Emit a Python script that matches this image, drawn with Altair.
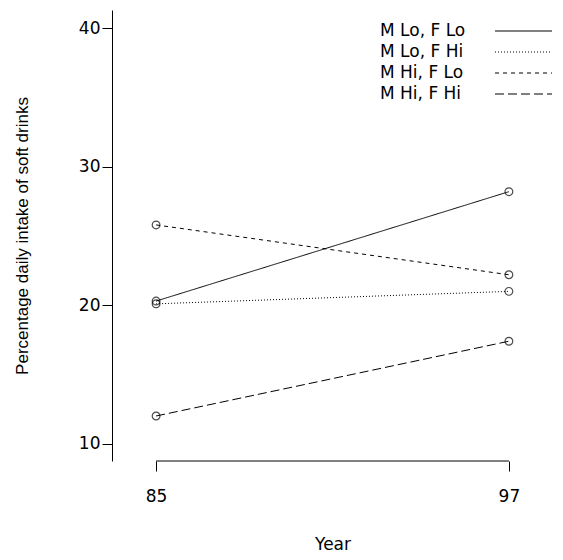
import altair as alt
import pandas as pd

years = [85, 97]
groups = ["M Lo, F Lo", "M Lo, F Hi", "M Hi, F Lo", "M Hi, F Hi"]
vals_mlo_flo = [20.3, 28.2]
vals_mlo_fhi = [20.1, 21.0]
vals_mhi_flo = [25.8, 22.2]
vals_mhi_fhi = [12.0, 17.4]
y_ticks = [10, 20, 30, 40]
x_ticks = [85, 97]

series = [vals_mlo_flo, vals_mlo_fhi, vals_mhi_flo, vals_mhi_fhi]
rows = []
for g, s in zip(groups, series):
    for yr, v in zip(years, s):
        rows.append({"group": g, "year": yr, "value": v})
df = pd.DataFrame(rows)

dashes = [[1, 0], [1, 2], [4, 4], [9, 4]]
FONT_H = "DejaVu Sans"
FONT_V = "Liberation Sans"
FS = 17
W, H = 441, 451
XDOM = [83.5, 98.5]
YDOM = [8.75, 41.32]

xs = alt.Scale(domain=XDOM, nice=False, zero=False)
ys = alt.Scale(domain=YDOM, nice=False, zero=False)

base = alt.Chart(df)

lines = base.mark_line(color="black", strokeWidth=1).encode(
    x=alt.X("year:Q", scale=xs,
            axis=alt.Axis(values=x_ticks, domain=False, tickSize=10, tickColor="black",
                          labelFontSize=FS, labelFont=FONT_H, labelColor="black",
                          labelPadding=17, grid=False, title="Year",
                          titleFont=FONT_H, titleFontSize=FS, titleFontWeight="normal",
                          titleColor="black", titleY=83, titleBaseline="middle")),
    y=alt.Y("value:Q", scale=ys,
            axis=alt.Axis(values=y_ticks, tickSize=10, tickColor="black", domainColor="black",
                          labelFontSize=FS, labelFont=FONT_H, labelColor="black",
                          labelPadding=2, grid=False,
                          title="Percentage daily intake of soft drinks",
                          titleFont=FONT_V, titleFontSize=FS, titleFontWeight="normal",
                          titleColor="black", titleX=-90, titleY=225.5, titleAngle=270,
                          titleAlign="center", titleBaseline="middle")),
    strokeDash=alt.StrokeDash("group:N", scale=alt.Scale(domain=groups, range=dashes), legend=None),
    detail="group:N",
)

points = base.mark_point(shape="circle", filled=False, size=60, color="black", strokeWidth=1.2).encode(
    x=alt.X("year:Q", scale=xs),
    y=alt.Y("value:Q", scale=ys),
)

axis_df = pd.DataFrame({"x": [x_ticks[0]], "x2": [x_ticks[-1]], "y": [YDOM[0]]})
xaxis_line = alt.Chart(axis_df).mark_rule(color="black", strokeWidth=1).encode(
    x=alt.X("x:Q", scale=xs), x2="x2:Q", y=alt.Y("y:Q", scale=ys)
)

legend_layers = []
for i, (g, d) in enumerate(zip(groups, dashes)):
    yy = 21 + 21 * i
    ldf = pd.DataFrame({"label": [g]})
    legend_layers.append(
        alt.Chart(ldf).mark_text(align="left", baseline="middle", font=FONT_H, fontSize=FS,
                                 color="black").encode(
            text="label:N", x=alt.value(268), y=alt.value(yy))
    )
    legend_layers.append(
        alt.Chart(ldf).mark_rule(color="black", strokeWidth=1, strokeDash=d).encode(
            x=alt.value(383), x2=alt.value(440), y=alt.value(yy))
    )

chart = alt.layer(lines, points, xaxis_line, *legend_layers).properties(
    width=W, height=H,
    autosize=alt.AutoSizeParams(type="none"),
    padding={"left": 104, "top": 2, "right": 2, "bottom": 91},
    background="white",
).configure_view(stroke=None)

chart.save("out.html", embed_options={"renderer": "svg", "actions": False})
